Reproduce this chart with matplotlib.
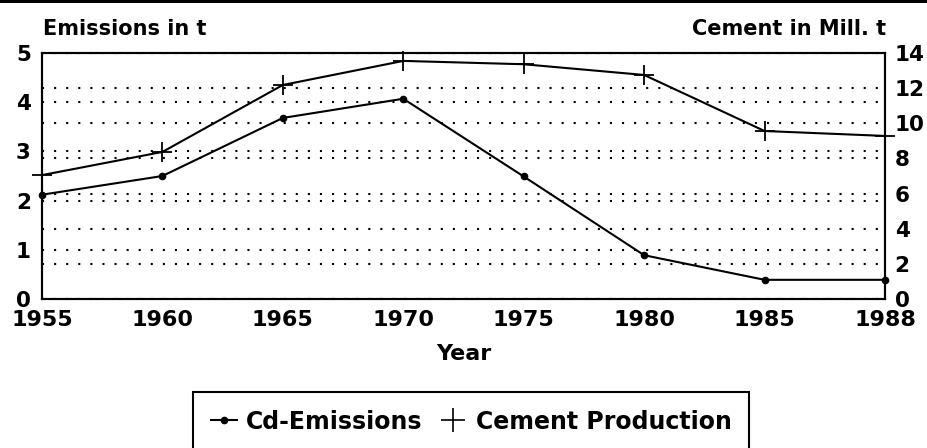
import matplotlib
matplotlib.use("Agg")
import matplotlib.pyplot as plt
from matplotlib.lines import Line2D
from matplotlib.patches import Rectangle

years = ["1955", "1960", "1965", "1970", "1975", "1980", "1985", "1988"]
cd_emissions = [2.12, 2.5, 3.68, 4.07, 2.49, 0.89, 0.39, 0.39]
cement = [7.05, 8.37, 12.18, 13.55, 13.36, 12.75, 9.56, 9.28]
left_ticks = [0, 1, 2, 3, 4, 5]
right_ticks = [0, 2, 4, 6, 8, 10, 12, 14]

FONT = "DejaVu Sans"
plt.rcParams["font.family"] = [FONT]
plt.rcParams["font.weight"] = "bold"

fig = plt.figure(figsize=(9.28, 4.48), dpi=100)
W, H = 928, 448
ax = fig.add_axes([42 / W, 1 - 299 / H, (885 - 42) / W, (299 - 53) / H])
ax2 = ax.twinx()

x = list(range(len(years)))
ax.plot(x, cd_emissions, color="black", lw=1.5, marker="o", markersize=4.5,
        clip_on=False, zorder=5)
ax2.plot(x, cement, color="black", lw=1.5, marker="+", markersize=14,
         markeredgewidth=1.3, clip_on=False, zorder=5)

ax.set_xlim(0, len(years) - 1)
ax.set_ylim(0, 5)
ax2.set_ylim(0, 14)
ax.set_xticks(x)
ax.set_xticklabels(years)
ax.set_yticks(left_ticks)
ax2.set_yticks(right_ticks)

grid_style = dict(color="black", linestyle=(0, (1, 4.8)), linewidth=1.5)
ax.yaxis.grid(True, **grid_style)
ax2.yaxis.grid(True, **grid_style)
ax.set_axisbelow(True)

for a in (ax, ax2):
    for s in a.spines.values():
        s.set_linewidth(1.5)
        s.set_color("black")
    a.tick_params(length=0, labelsize=15.5)
ax.tick_params(axis="y", pad=8)
ax2.tick_params(axis="y", pad=7)
ax.tick_params(axis="x", pad=8, labelsize=16)
for lab in ax.get_xticklabels() + ax.get_yticklabels() + ax2.get_yticklabels():
    lab.set_fontweight("bold")

ax.set_xlabel("Year", fontsize=16, fontweight="bold", labelpad=10)

fig.text(43 / W, 1 - 35 / H, "Emissions in t", fontsize=15, fontweight="bold",
         ha="left", va="baseline")
fig.text(886 / W, 1 - 35 / H, "Cement in Mill. t", fontsize=15, fontweight="bold",
         ha="right", va="baseline")

# scan border at top
fig.add_artist(Rectangle((0, 1 - 3 / H), 1, 3 / H, transform=fig.transFigure,
                         facecolor="black", edgecolor="none"))

handles = [
    Line2D([], [], color="black", lw=1.5, marker="o", markersize=4.5),
    Line2D([], [], color="black", lw=0, marker="+", markersize=17, markeredgewidth=1.2),
]
leg = fig.legend(handles, ["Cd-Emissions", "Cement Production"], loc="upper center",
                 bbox_to_anchor=(471 / W, 1 - 392 / H), ncol=2, frameon=True,
                 fancybox=False, edgecolor="black", framealpha=1,
                 handlelength=1.1, handletextpad=0.4, columnspacing=0.75,
                 borderpad=0.75, borderaxespad=0,
                 prop={"weight": "bold", "size": 17})
leg.get_frame().set_linewidth(1.5)

fig.savefig("out.png", dpi=100)
